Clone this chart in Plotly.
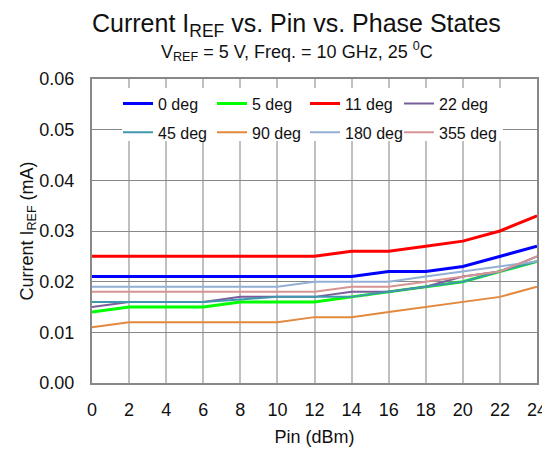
import plotly.graph_objects as go

pin = [0, 2, 4, 6, 8, 10, 12, 14, 16, 18, 20, 22, 24]

deg0 = [0.021, 0.021, 0.021, 0.021, 0.021, 0.021, 0.021, 0.021, 0.022, 0.022, 0.023, 0.025, 0.027]
deg5 = [0.014, 0.015, 0.015, 0.015, 0.016, 0.016, 0.016, 0.017, 0.018, 0.019, 0.020, 0.022, 0.024]
deg11 = [0.025, 0.025, 0.025, 0.025, 0.025, 0.025, 0.025, 0.026, 0.026, 0.027, 0.028, 0.030, 0.033]
deg22 = [0.015, 0.016, 0.016, 0.016, 0.017, 0.017, 0.017, 0.018, 0.018, 0.019, 0.021, 0.022, 0.025]
deg45 = [0.016, 0.016, 0.016, 0.016, 0.0165, 0.017, 0.017, 0.017, 0.018, 0.019, 0.020, 0.022, 0.024]
deg90 = [0.011, 0.012, 0.012, 0.012, 0.012, 0.012, 0.013, 0.013, 0.014, 0.015, 0.016, 0.017, 0.019]
deg180 = [0.019, 0.019, 0.019, 0.019, 0.019, 0.019, 0.020, 0.020, 0.020, 0.021, 0.022, 0.023, 0.024]
deg355 = [0.018, 0.018, 0.018, 0.018, 0.018, 0.018, 0.018, 0.019, 0.019, 0.020, 0.021, 0.022, 0.025]

names = ["0 deg", "5 deg", "11 deg", "22 deg", "45 deg", "90 deg", "180 deg", "355 deg"]
series = [deg0, deg5, deg11, deg22, deg45, deg90, deg180, deg355]
colors = ["#0000ff", "#00ff00", "#ff0000", "#7a5e9c", "#3f98ad", "#e3893e", "#93afd5", "#d69493"]
widths = [3, 3, 3, 2, 2, 2, 2, 2]

title_text = "Current I<sub>REF</sub> vs. Pin vs. Phase States"
subtitle_text = "V<sub>REF</sub> = 5 V, Freq. = 10 GHz, 25 <sup>0</sup>C"

# legend columns (one legend per column, 4 columns x 2 rows)
legend_ids = ["legend", "legend2", "legend3", "legend4"]

fig = go.Figure()
for i, (n, s, c, w) in enumerate(zip(names, series, colors, widths)):
    fig.add_trace(go.Scatter(x=pin, y=s, mode="lines", name=n,
                             line=dict(color=c, width=w),
                             legend=legend_ids[i % 4], legendgroup=n))

font = "Liberation Sans, Arial, sans-serif"

plot_l, plot_w = 92, 445
col_left_px = [118, 212, 305, 399]
legend_common = dict(
    orientation="v", y=0.975, yanchor="top", xanchor="left",
    bgcolor="rgba(255,255,255,0)", font=dict(size=16, family=font, color="#111"),
    itemwidth=30, tracegroupgap=5, traceorder="grouped",
)
legend_layout = {}
for lid, px in zip(legend_ids, col_left_px):
    legend_layout[lid] = dict(legend_common, x=(px - plot_l) / plot_w)

fig.update_layout(
    width=550, height=449,
    margin=dict(l=84, r=21, t=71, b=74, autoexpand=False),
    paper_bgcolor="white", plot_bgcolor="white",
    font=dict(family=font, size=18, color="#111"),
    showlegend=True,
    **legend_layout,
    xaxis=dict(
        range=[0, 24], tickvals=pin, ticktext=[str(v) for v in pin],
        showgrid=True, gridcolor="#c0c0c0", gridwidth=2,
        showline=True, linecolor="#888", linewidth=2, mirror=True,
        zeroline=False, ticks="outside", ticklen=9, tickcolor="rgba(0,0,0,0)",
        title=dict(text="Pin (dBm)", standoff=12, font=dict(size=18)),
        tickfont=dict(size=18), automargin=False,
    ),
    yaxis=dict(
        range=[0, 0.06], tickvals=[0, 0.01, 0.02, 0.03, 0.04, 0.05, 0.06],
        tickformat=".2f",
        showgrid=True, gridcolor="#888", gridwidth=1,
        showline=True, linecolor="#888", linewidth=2, mirror=True,
        zeroline=False, ticks="outside", ticklen=12, tickcolor="rgba(0,0,0,0)",
        title=dict(text="Current I<sub>REF</sub> (mA)", standoff=1, font=dict(size=18)),
        tickfont=dict(size=18), automargin=False,
    ),
    shapes=[
        dict(type="rect", xref="paper", yref="paper",
             x0=(122 - plot_l) / plot_w, x1=(503 - plot_l) / plot_w,
             y0=(383 - 141) / 304, y1=(383 - 88) / 304,
             fillcolor="white", line=dict(width=0), layer="above"),
    ],
    annotations=[
        dict(text=title_text, xref="paper", yref="paper", x=0.46, y=1.178,
             xanchor="center", yanchor="middle", showarrow=False,
             font=dict(size=25, family=font, color="#111")),
        dict(text=subtitle_text, xref="paper", yref="paper", x=0.46, y=1.089,
             xanchor="center", yanchor="middle", showarrow=False,
             font=dict(size=18, family=font, color="#111")),
    ],
)

fig.write_html("out.html")
